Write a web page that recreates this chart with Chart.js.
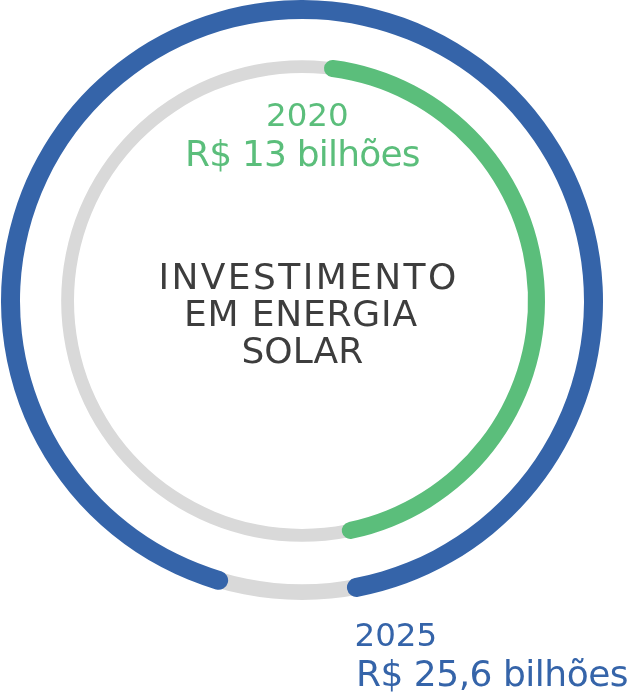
<!DOCTYPE html>
<html lang="pt-BR">
<head>
<meta charset="utf-8">
<script src="https://cdn.jsdelivr.net/npm/chart.js@4.4.0/dist/chart.umd.min.js"></script>
<style>
  body { margin: 0; background: #fff; }
  #wrap { position: relative; width: 636px; height: 700px; overflow: hidden; font-family: 'DejaVu Sans', sans-serif; }
  #wrap canvas { position: absolute; left: 0; top: 0; }
  .lbl { position: absolute; white-space: nowrap; line-height: 1; }
  .year { font-size: 32.5px; }
  .value { font-size: 36px; letter-spacing: -0.8px; }
  .green { color: #5bbe7b; }
  .blue { color: #3564a9; }
  .title { font-size: 36px; color: #3d3d3d; }
</style>
</head>
<body>
<div id="wrap">
  <canvas id="trackChart" width="636" height="700"></canvas>
  <canvas id="arcChart" width="636" height="700"></canvas>

  <div class="lbl year green" style="left:266px; top:98.5px;">2020</div>
  <div class="lbl value green" style="left:185px; top:136px;">R$ 13 bilhões</div>

  <div class="lbl title" style="left:158.5px; top:259px; letter-spacing:2.4px;">INVESTIMENTO</div>
  <div class="lbl title" style="left:184px; top:296px; letter-spacing:0.8px;">EM ENERGIA</div>
  <div class="lbl title" style="left:241.5px; top:332.5px;">SOLAR</div>

  <div class="lbl year blue" style="left:354.5px; top:619px;">2025</div>
  <div class="lbl value blue" style="left:356px; top:656px; letter-spacing:-0.5px;">R$ 25,6 bilhões</div>
</div>

<script>
// dados
const years = ['2020', '2025'];
const investimento = [13, 25.6];      // R$ bilhões
const ringMax = [28.4, 27.4];         // total de cada anel (parte cinza = resto)

const GREEN = '#5bbe7b';
const BLUE = '#3564a9';
const GREY = '#d9d9d9';

// área do gráfico: 602x602, centro em (302, 301)
const padding = { left: 1, top: 0, right: 33, bottom: 98 };

const baseOptions = {
  responsive: false,
  animation: false,
  events: [],
  layout: { padding: padding },
  plugins: {
    legend: { display: false },
    tooltip: { enabled: false }
  },
  elements: {
    arc: { borderWidth: 0 }
  }
};

// trilhos cinza (anéis completos por trás)
new Chart(document.getElementById('trackChart'), {
  type: 'doughnut',
  data: {
    datasets: [
      { data: [1], backgroundColor: 'rgba(0,0,0,0)', weight: 2 },
      { data: [1], backgroundColor: GREY, weight: 16 },
      { data: [1], backgroundColor: 'rgba(0,0,0,0)', weight: 43 },
      { data: [1], backgroundColor: GREY, weight: 13 }
    ]
  },
  options: Object.assign({}, baseOptions, { cutout: 228 })
});

// arcos coloridos: 2025 por fora, 2020 por dentro
new Chart(document.getElementById('arcChart'), {
  type: 'doughnut',
  data: {
    labels: ['valor', 'resto'],
    datasets: [
      {
        label: years[1],
        data: [investimento[1], ringMax[1] - investimento[1]],
        backgroundColor: [BLUE, 'rgba(0,0,0,0)'],
        borderRadius: [10, 0],
        rotation: 194.75,
        weight: 19
      },
      { data: [1], backgroundColor: 'rgba(0,0,0,0)', weight: 39 },
      {
        label: years[0],
        data: [investimento[0], ringMax[0] - investimento[0]],
        backgroundColor: [GREEN, 'rgba(0,0,0,0)'],
        borderRadius: [9, 0],
        rotation: 5.4,
        weight: 17
      }
    ]
  },
  options: Object.assign({}, baseOptions, { cutout: 226 })
});
</script>
</body>
</html>
